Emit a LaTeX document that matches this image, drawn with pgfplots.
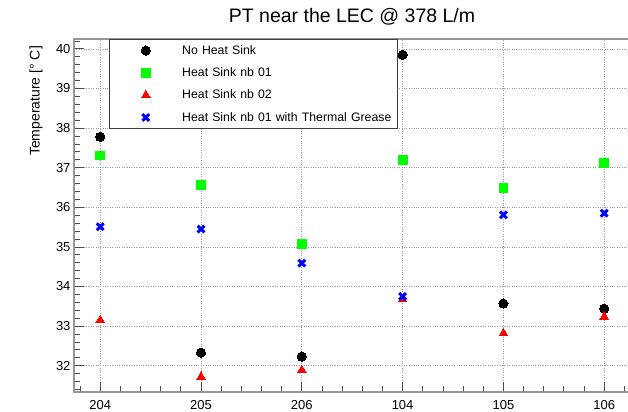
\documentclass[border=0pt]{standalone}
\usepackage{fontspec}
\setmainfont{Liberation Sans}
\usepackage{pgfplots}
\pgfplotsset{compat=1.18}

\definecolor{rootgreen}{RGB}{0,255,0}
\definecolor{rootred}{RGB}{255,0,0}
\definecolor{rootblue}{RGB}{0,0,255}
\definecolor{frame}{RGB}{150,150,150}

\begin{document}
\begin{tikzpicture}
\begin{axis}[
  at={(74bp,20bp)}, anchor=south west,
  scale only axis,
  width=580.6bp, height=353bp,
  xmin=-0.26, xmax=5.5,
  ymin=31.336, ymax=40.25,
  xtick={0,1,2,3,4,5},
  xticklabels={204,205,206,104,105,106},
  minor xtick={-0.2,0.2,0.4,0.6,0.8,1.2,1.4,1.6,1.8,2.2,2.4,2.6,2.8,3.2,3.4,3.6,3.8,4.2,4.4,4.6,4.8,5.2,5.4},
  ytick={32,33,...,40},
  minor ytick={31.4,31.6,31.8,32.2,32.4,32.6,32.8,33.2,33.4,33.6,33.8,34.2,34.4,34.6,34.8,35.2,35.4,35.6,35.8,36.2,36.4,36.6,36.8,37.2,37.4,37.6,37.8,38.2,38.4,38.6,38.8,39.2,39.4,39.6,39.8,40.2},
  xtick pos=left, ytick pos=left,
  tick align=inside,
  major tick length=10bp, minor tick length=6bp,
  every tick/.style={black!70, line width=0.8bp},
  axis line style={frame, line width=1.5bp},
  grid=major,
  major grid style={black!40, dotted, line width=0.7bp},
  /pgf/number format/assume math mode=true,
  tick label style={font=\fontsize{13bp}{15bp}\selectfont},
  yticklabel style={xshift=0bp},
  xticklabel style={yshift=-5bp},
  ylabel={Temperature [° C]},
  ylabel style={at={(axis description cs:-0.0482,0.99)}, anchor=south east, rotate=0,
    font=\fontsize{14bp}{16bp}\selectfont},
  legend style={at={(axis description cs:0.0603,1)}, anchor=north west,
    draw=black!75, line width=0.8bp, inner xsep=0pt, inner ysep=0pt, row sep=0pt,
    font=\fontsize{12.3bp}{14bp}\selectfont,
    nodes={inner sep=0pt, text width=215bp, minimum height=22.3bp}},
  legend cell align=left,
  legend image code/.code={\path (0bp,0bp) (72bp,0bp); \draw[#1] plot coordinates {(36bp,0bp)};},
]
\addplot[only marks, mark=*, mark size=4.6bp, black, mark options={fill=black, line width=0pt}]
  coordinates {(0,37.78) (1,32.33) (2,32.23) (3,39.85) (4,33.57) (5,33.44)};
\addlegendentry{No Heat Sink}
\addplot[only marks, mark=square*, mark size=4.4bp, rootgreen, mark options={fill=rootgreen, line width=0pt}]
  coordinates {(0,37.31) (1,36.56) (2,35.07) (3,37.19) (4,36.49) (5,37.11)};
\addlegendentry{Heat Sink nb 01}
\addplot[only marks, mark=triangle*, mark size=5bp, rootred, mark options={fill=rootred, line width=0pt}]
  coordinates {(0,33.15) (1,31.72) (2,31.89) (3,33.68) (4,32.82) (5,33.24)};
\addlegendentry{Heat Sink nb 02}
\addplot[only marks, mark=x, mark size=4.8bp, rootblue, mark options={line width=3bp}]
  coordinates {(0,35.51) (1,35.45) (2,34.59) (3,33.75) (4,35.81) (5,35.85)};
\addlegendentry{Heat Sink nb 01 with Thermal Grease}
\end{axis}
\node[font=\fontsize{19.5bp}{22bp}\selectfont] at (352bp,395bp) {PT near the LEC @ 378 L/m};
\pgfresetboundingbox
\useasboundingbox (0,0) rectangle (628bp,412bp);
\end{tikzpicture}
\end{document}
